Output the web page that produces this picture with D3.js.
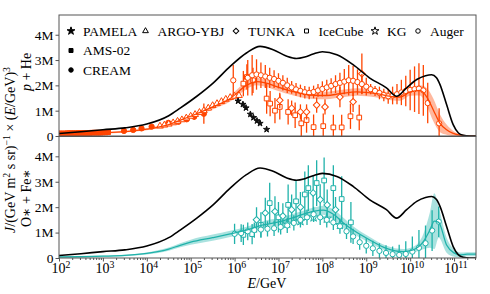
<!DOCTYPE html>
<html>
<head>
<meta charset="utf-8">
<script src="https://cdn.jsdelivr.net/npm/d3@7"></script>
<style>
  body { margin: 0; background: #fff; }
  svg text { font-family: "Liberation Serif", "DejaVu Serif", serif !important; fill: #000; }
</style>
</head>
<body>
<svg id="chart" width="490" height="294" font-family="Liberation Serif, DejaVu Serif, serif"></svg>
<script>
// ---- curves (log10 E, value in millions) ----
const allLogE = [2.0,2.5,3.0,3.5,4.0,4.5,4.76,5.14,5.51,5.9,6.27,6.58,6.88,7.19,7.41,7.6,7.79,8.0,8.33,8.7,9.08,9.46,9.69,9.92,10.15,10.35,10.49,10.6,10.68,10.83,10.98,11.1,11.21,11.35,11.5];
const allVal  = [0.1,0.17,0.25,0.32,0.47,0.8,1.1,1.57,2.09,2.75,3.28,3.54,3.41,3.15,3.06,3.12,3.24,3.33,3.21,2.82,2.29,1.9,1.57,1.9,2.23,2.38,2.42,2.3,2.03,1.24,0.45,0.12,0.03,0.0,0.0];

const pheLogE = [2.0,2.5,3.0,3.5,4.0,4.5,4.76,5.0,5.5,5.9,6.27,6.5,6.7,6.96,7.34,7.72,8.1,8.4,8.78,9.24,9.62,9.77,10.0,10.22,10.38,10.53,10.68,10.83,10.98,11.2,11.5];
const pheVal  = [0.07,0.09,0.12,0.17,0.27,0.45,0.62,0.78,1.15,1.48,2.0,2.15,2.1,1.95,1.75,1.62,1.6,1.67,1.74,1.67,1.55,1.54,1.74,1.8,1.54,1.02,0.5,0.25,0.1,0.02,0.0];
const pheBand = [0.03,0.03,0.03,0.03,0.04,0.05,0.06,0.07,0.1,0.12,0.15,0.15,0.15,0.15,0.15,0.15,0.15,0.15,0.15,0.15,0.15,0.15,0.15,0.2,0.35,0.45,0.35,0.2,0.1,0.03,0.0];

const heavyLogE = [2.0,2.5,3.0,3.5,4.0,4.5,4.76,5.0,5.5,5.9,6.27,6.65,7.03,7.41,7.79,8.02,8.25,8.5,8.7,9.08,9.46,9.84,10.07,10.3,10.45,10.55,10.65,10.83,11.0,11.13,11.3,11.5];
const heavyVal  = [0.04,0.05,0.07,0.1,0.18,0.35,0.5,0.62,0.8,0.95,1.1,1.3,1.43,1.63,1.83,1.88,1.72,1.35,1.1,0.71,0.38,0.25,0.32,0.64,1.1,1.45,1.4,0.51,0.2,0.12,0.15,0.15];
const heavyBand = [0.02,0.02,0.03,0.03,0.04,0.06,0.08,0.1,0.12,0.12,0.13,0.15,0.15,0.15,0.15,0.18,0.2,0.2,0.15,0.12,0.1,0.1,0.12,0.3,0.7,1.1,0.6,0.3,0.15,0.1,0.08,0.08];

// ---- p + He data ----
const amsLogE = [2.0,2.05,2.1,2.15,2.2,2.25,2.3,2.35,2.4,2.45,2.5,2.55,2.6,2.65,2.7,2.75,2.8,2.85,2.9,2.95,3.0,3.06,3.12];
const amsVal  = [0.1,0.1,0.1,0.1,0.11,0.11,0.11,0.11,0.11,0.12,0.12,0.12,0.12,0.12,0.12,0.13,0.13,0.13,0.13,0.13,0.14,0.14,0.15];

const creamLogE = [3.48,3.69,3.88,4.11,4.49,4.72,4.91,5.08,5.3];
const creamVal  = [0.2,0.24,0.3,0.37,0.52,0.56,0.66,0.76,0.88];
const creamErr  = [0.02,0.02,0.03,0.03,0.04,0.05,0.07,0.12,0.4];

const argoLogE = [4.3,4.4,4.5,4.6,4.7,4.8,4.9,5.0,5.1,5.2,5.3,5.4,5.5,5.6,5.7,5.8,5.9,6.0,6.1];
const argoVal  = [0.39,0.43,0.47,0.52,0.58,0.64,0.71,0.78,0.85,0.93,1.0,1.1,1.2,1.28,1.36,1.45,1.52,1.57,1.6];
const argoErr  = [0.03,0.03,0.03,0.04,0.04,0.04,0.05,0.05,0.05,0.06,0.06,0.07,0.07,0.08,0.08,0.09,0.1,0.1,0.1];

const pamelaLogE = [6.08,6.19,6.26,6.36,6.43,6.51,6.58,6.73];
const pamelaVal  = [1.38,1.25,1.11,0.86,0.73,0.6,0.5,0.26];
const pamelaErr  = [0.08,0.08,0.07,0.07,0.06,0.06,0.05,0.05];

const tunkaLogE = [5.97,6.3,6.4,6.5,6.6,6.7,6.8,6.9,7.0,7.1,7.2,7.3,7.4,7.5,7.6,7.7,7.8,7.9,8.0,8.1,8.2,8.3,8.4,8.5,8.6,8.7,8.8,8.9,9.0];
const tunkaVal  = [2.2,2.3,2.4,2.43,2.4,2.35,2.3,2.25,2.18,2.1,2.0,1.92,1.84,1.78,1.73,1.7,1.74,1.8,1.86,1.92,1.98,2.05,2.1,2.15,2.2,2.18,2.13,2.05,1.95];
const tunkaErr  = [0.6,0.7,0.8,0.6,0.5,0.45,0.4,0.35,0.3,0.3,0.3,0.25,0.25,0.25,0.25,0.25,0.25,0.25,0.3,0.3,0.3,0.35,0.4,0.5,0.6,0.6,0.5,0.4,0.35];

const iceLogE = [6.2,6.28,6.42,6.73,6.81,6.92,7.03,7.22,7.38,7.52,7.64,7.8,8.02,8.25,8.44,8.64,8.84];
const iceVal  = [2.07,2.33,2.2,1.48,1.28,1.0,1.15,0.95,0.82,0.5,0.63,0.35,0.39,0.34,0.34,0.78,0.73];
const iceErr  = [0.5,0.5,0.5,0.6,0.5,0.5,0.5,0.5,0.5,0.5,0.5,0.5,0.5,0.5,0.5,0.5,0.5];

const kgLogE = [7.03,7.3,7.5,7.64,7.87,8.06,8.4,8.7,8.9];
const kgVal  = [1.41,1.1,0.95,0.95,1.22,1.15,1.54,1.35,2.46];
const kgErr  = [0.3,0.3,0.3,0.3,0.3,0.3,0.4,0.4,0.8];

const augerLogE = [9.1,9.2,9.3,9.4,9.5,9.6,9.7,9.8,9.9,10.0,10.1,10.2,10.3,10.4,10.66];
const augerVal  = [1.85,1.78,1.7,1.62,1.57,1.6,1.65,1.72,1.78,1.82,1.85,1.87,1.8,1.3,0.5];
const augerErr  = [0.2,0.2,0.25,0.25,0.3,0.35,0.4,0.5,0.6,0.8,0.9,1.0,1.0,0.8,0.6];

// ---- O* + Fe* data ----
const iceHLogE = [6.2,6.4,6.6,6.8,7.0,7.22,7.4,7.6,7.68,7.87,8.04,8.25,8.44,8.65];
const iceHVal  = [0.91,0.94,1.3,2.16,1.6,2.09,2.23,2.5,2.75,2.95,3.05,2.75,2.32,1.4];
const iceHErr  = [0.4,0.4,0.5,0.8,0.6,0.8,0.8,0.9,0.9,0.9,0.9,0.9,0.9,0.8];

const tunkaHLogE = [6.5,6.7,6.92,7.1,7.3,7.5,7.79,7.95,8.11,8.3];
const tunkaHVal  = [1.5,1.77,1.83,1.65,1.9,2.0,2.56,2.3,2.09,1.9];
const tunkaHErr  = [0.5,0.6,0.6,0.5,0.6,0.6,0.7,0.6,0.6,0.5];

const kgHLogE = [7.2,7.5,7.8,8.1,8.4];
const kgHVal  = [1.35,1.45,1.6,1.55,1.3];
const kgHErr  = [0.15,0.15,0.15,0.15,0.15];

const augerHLogE = [6.0,6.15,6.3,6.45,6.6,6.75,6.9,7.05,7.2,7.35,7.5,7.65,7.8,7.95,8.1,8.25,8.4,8.55,8.7,8.85,9.0,9.15,9.3,9.45,9.6,9.75,9.9,10.05,10.2,10.35,10.5,10.65];
const augerHVal  = [0.95,0.98,1.05,1.1,1.12,1.15,1.17,1.22,1.28,1.38,1.5,1.6,1.72,1.6,1.5,1.4,1.25,1.05,0.85,0.62,0.48,0.38,0.28,0.2,0.15,0.12,0.16,0.25,0.4,0.58,1.08,1.43];
const augerHErr  = [0.4,0.35,0.35,0.3,0.3,0.3,0.3,0.3,0.3,0.3,0.3,0.3,0.3,0.3,0.3,0.3,0.3,0.3,0.3,0.3,0.3,0.3,0.3,0.3,0.3,0.4,0.5,0.6,0.7,0.7,0.8,0.6];

const majorExp = [2,3,4,5,6,7,8,9,10,11];
const yTicks = [0,1,2,3,4];

// ---- layout ----
const left = 59, right = 476;
const topP = {y0: 15, y1: 136};
const botP = {y0: 136.5, y1: 258};
const orange = "#ff4500", teal = "#20b2aa";
const FONT = "Liberation Serif, DejaVu Serif, serif";

const svg = d3.select("#chart");

const x = d3.scaleLog().domain([1e2, Math.pow(10, 11.5)]).range([left, right]);
const yTop = d3.scaleLinear().domain([0, 4.78]).range([topP.y1, topP.y0]);
const yBot = d3.scaleLinear().domain([0, 4.78]).range([botP.y1, botP.y0]);

const E = l => Math.pow(10, l);

function zip(le, v, e) { return le.map((l, i) => ({l: l, v: v[i], e: e ? e[i] : 0})); }

function marker(g, type, cx, cy, color, sz) {
  sz = sz || 22;
  let sym, rot = 0, fill = "#fff";
  if (type === "circle") sym = d3.symbolCircle;
  if (type === "fcircle") { sym = d3.symbolCircle; fill = color; }
  if (type === "square") sym = d3.symbolSquare;
  if (type === "fsquare") { sym = d3.symbolSquare; fill = color; }
  if (type === "diamond") { sym = d3.symbolSquare; rot = 45; }
  if (type === "triangle") { sym = d3.symbolTriangle; sz = sz * 0.9; }
  if (type === "star") { sym = d3.symbolStar; sz = sz * 1.2; }
  if (type === "fstar") { sym = d3.symbolStar; fill = color; sz = sz * 1.2; }
  g.append("path")
    .attr("d", d3.symbol().type(sym).size(sz)())
    .attr("transform", `translate(${cx},${cy}) rotate(${rot})`)
    .attr("fill", fill)
    .attr("stroke", color)
    .attr("stroke-width", 1);
}

function series(g, y, data, type, color, sz) {
  g.selectAll(null).data(data).enter().append("line")
    .attr("x1", d => x(E(d.l))).attr("x2", d => x(E(d.l)))
    .attr("y1", d => y(Math.max(0, d.v - d.e))).attr("y2", d => y(d.v + d.e))
    .attr("stroke", color).attr("stroke-width", 1.3);
  data.forEach(d => marker(g, type, x(E(d.l)), y(d.v), color, sz));
}

function panel(p, y, bandData, lineColor, drawData) {
  const clipId = "clip" + Math.round(p.y0);
  svg.append("clipPath").attr("id", clipId).append("rect")
    .attr("x", left).attr("y", p.y0).attr("width", right - left).attr("height", p.y1 - p.y0);
  const g = svg.append("g").attr("clip-path", `url(#${clipId})`);

  const area = d3.area().curve(d3.curveMonotoneX)
    .x(d => x(E(d.l))).y0(d => y(Math.max(0, d.v - d.e))).y1(d => y(d.v + d.e));
  g.append("path").datum(bandData).attr("d", area)
    .attr("fill", lineColor).attr("fill-opacity", 0.38);

  drawData(g);

  const line = d3.line().curve(d3.curveMonotoneX).x(d => x(E(d.l))).y(d => y(d.v));
  g.append("path").datum(bandData).attr("d", line)
    .attr("fill", "none").attr("stroke", lineColor).attr("stroke-width", 1.3);
  g.append("path").datum(zip(allLogE, allVal)).attr("d", line)
    .attr("fill", "none").attr("stroke", "#000").attr("stroke-width", 1.6);

  // frame
  svg.append("rect").attr("x", left).attr("y", p.y0).attr("width", right - left).attr("height", p.y1 - p.y0)
    .attr("fill", "none").attr("stroke", "#555").attr("stroke-width", 1);

  // y axis
  const ya = svg.append("g").attr("transform", `translate(${left},0)`)
    .call(d3.axisLeft(y).tickValues(yTicks).tickSize(3.5).tickPadding(2)
      .tickFormat(d => d === 0 ? "0" : d + "M"));
  ya.attr("font-family", FONT).attr("font-size", 13.5);
  ya.select(".domain").remove();
  ya.selectAll("line").attr("stroke", "#555");
  ya.selectAll("text").attr("font-family", FONT).attr("font-size", 13.5);
}

// ---- top panel ----
panel(topP, yTop, zip(pheLogE, pheVal, pheBand), orange, g => {
  series(g, yTop, zip(amsLogE, amsVal), "fsquare", orange);
  series(g, yTop, zip(creamLogE, creamVal, creamErr), "fcircle", orange);
  series(g, yTop, zip(argoLogE, argoVal, argoErr), "triangle", orange);
  series(g, yTop, zip(iceLogE, iceVal, iceErr), "square", orange);
  series(g, yTop, zip(kgLogE, kgVal, kgErr), "diamond", orange);
  series(g, yTop, zip(tunkaLogE, tunkaVal, tunkaErr), "circle", orange);
  series(g, yTop, zip(augerLogE, augerVal, augerErr), "circle", orange);
  series(g, yTop, zip(pamelaLogE, pamelaVal, pamelaErr), "fstar", "#111", 10);
});

// ---- bottom panel ----
panel(botP, yBot, zip(heavyLogE, heavyVal, heavyBand), teal, g => {
  series(g, yBot, zip(iceHLogE, iceHVal, iceHErr), "square", teal);
  series(g, yBot, zip(tunkaHLogE, tunkaHVal, tunkaHErr), "diamond", teal);
  series(g, yBot, zip(kgHLogE, kgHVal, kgHErr), "star", teal);
  series(g, yBot, zip(augerHLogE, augerHVal, augerHErr), "circle", teal);
});

// ---- x axis ----
const minor = [];
for (let k = 2; k <= 11; k++) for (let m = 2; m <= 9; m++) {
  const v = m * Math.pow(10, k);
  if (v < Math.pow(10, 11.5)) minor.push(v);
}
const xa = svg.append("g").attr("transform", `translate(0,${botP.y1})`);
xa.call(d3.axisBottom(x).tickValues(majorExp.map(E)).tickSize(3.5).tickFormat(""));
xa.append("g").call(d3.axisBottom(x).tickValues(minor).tickSize(2).tickFormat(""));
xa.selectAll(".domain").remove();
xa.selectAll("line").attr("stroke", "#555");

function rich(t, parts) {
  let off = 0;
  t.attr("font-family", FONT);
  parts.forEach(p => {
    const target = p.sup ? -5.5 : 0;
    const s = t.append("tspan").text(p.t).attr("dy", target - off);
    off = target;
    if (p.sup) s.attr("font-size", "70%");
    if (p.it) s.attr("font-style", "italic");
  });
}

majorExp.forEach(k => {
  const t = svg.append("text").attr("x", x(E(k)) + 2).attr("y", 273)
    .attr("text-anchor", "middle").attr("font-size", 14);
  rich(t, [{t: "10"}, {t: String(k), sup: true}]);
});

const xl = svg.append("text").attr("x", 267).attr("y", 288).attr("text-anchor", "middle").attr("font-size", 14);
rich(xl, [{t: "E", it: true}, {t: "/GeV"}]);

// ---- y labels ----
const yl = svg.append("text").attr("transform", "translate(15,150) rotate(-90)")
  .attr("text-anchor", "middle").attr("font-size", 14);
rich(yl, [{t: "J", it: true}, {t: "/(GeV m"}, {t: "2", sup: true}, {t: " s sr)"}, {t: "\u22121", sup: true},
  {t: " \u00d7 ("}, {t: "E", it: true}, {t: "/GeV)"}, {t: "3", sup: true}]);

const pl = svg.append("text").attr("transform", "translate(31,72) rotate(-90)")
  .attr("text-anchor", "middle").attr("font-size", 14);
rich(pl, [{t: "p", it: true}, {t: " + He"}]);

const hl = svg.append("text").attr("transform", "translate(31,198) rotate(-90)")
  .attr("text-anchor", "middle").attr("font-size", 14);
rich(hl, [{t: "O\u2217 + Fe\u2217"}]);

// ---- legend ----
const legendNames = ["PAMELA", "ARGO-YBJ", "TUNKA", "IceCube", "KG", "Auger", "AMS-02", "CREAM"];
const legendTypes = ["fstar", "triangle", "diamond", "square", "star", "circle", "fsquare", "fcircle"];
const legendMx = [71, 145.5, 236, 306.5, 375, 418, 71, 71];
const legendRow = [0, 0, 0, 0, 0, 0, 1, 2];
const lg = svg.append("g");
legendNames.forEach((n, i) => {
  const cy = 31 + legendRow[i] * 19.5;
  marker(lg, legendTypes[i], legendMx[i], cy, "#000", 16);
  lg.append("text").attr("x", legendMx[i] + 12).attr("y", cy + 4.5)
    .attr("font-family", FONT).attr("font-size", 13.5).text(n);
});
</script>
</body>
</html>
